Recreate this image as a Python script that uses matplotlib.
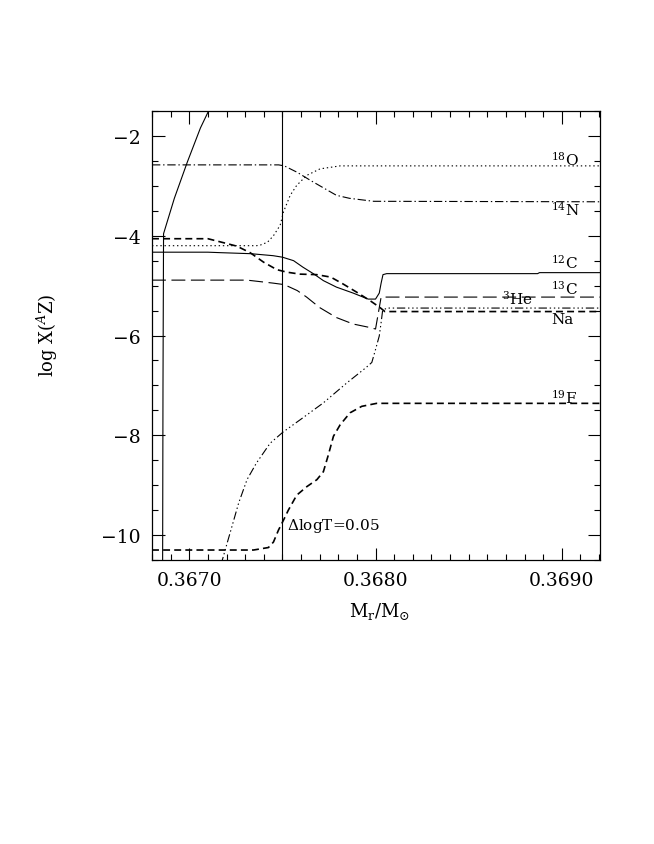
import numpy as np
import matplotlib
matplotlib.use("Agg")
import matplotlib.pyplot as plt
from matplotlib.ticker import MultipleLocator

plt.rcParams['font.family'] = ['DejaVu Serif']
plt.rcParams['mathtext.fontset'] = 'dejavuserif'
plt.rcParams['lines.scale_dashes'] = False

# profiles (Mr/Msun , log X)
# steep solid curve at the left edge (no label)
x_g = [0.366857, 0.366859, 0.366862, 0.36692, 0.36699, 0.36706, 0.36711]
y_g = [-10.6, -7.0, -3.96, -3.25, -2.52, -1.84, -1.45]

# 12C
x_12c = [0.36680, 0.36710, 0.36717, 0.36733, 0.36745, 0.36750, 0.36756, 0.36761,
         0.36767, 0.36772, 0.36779, 0.36788, 0.36796, 0.36800, 0.36802, 0.36803,
         0.36804, 0.36806, 0.36887, 0.36888, 0.36925]
y_12c = [-4.33, -4.33, -4.34, -4.36, -4.40, -4.43, -4.50, -4.63,
         -4.77, -4.90, -5.03, -5.15, -5.27, -5.27, -5.15, -4.95,
         -4.78, -4.76, -4.76, -4.74, -4.74]

# 3He
x_3he = [0.36680, 0.36731, 0.36745, 0.36751, 0.36758, 0.36763, 0.36770, 0.36779,
         0.36788, 0.36797, 0.36800, 0.36803, 0.36925]
y_3he = [-4.89, -4.89, -4.95, -4.98, -5.10, -5.23, -5.44, -5.64,
         -5.77, -5.84, -5.87, -5.23, -5.23]

# 14N
x_14n = [0.36680, 0.36748, 0.36751, 0.36758, 0.36765, 0.36772, 0.36779, 0.36786,
         0.36799, 0.36925]
y_14n = [-2.58, -2.58, -2.60, -2.73, -2.89, -3.04, -3.19, -3.25, -3.31, -3.32]

# 18O
x_18o = [0.36680, 0.36736, 0.36738, 0.36742, 0.367452, 0.367488, 0.367506, 0.367542,
         0.367577, 0.367631, 0.367702, 0.36781, 0.36925]
y_18o = [-4.20, -4.20, -4.19, -4.13, -4.00, -3.79, -3.52, -3.19,
         -2.99, -2.79, -2.66, -2.60, -2.60]

# 13C (dashed, ends at the bottom of the right group)
x_13c = [0.36680, 0.36710, 0.367184, 0.367256, 0.367327, 0.367399, 0.36747, 0.367523,
         0.367595, 0.367684, 0.36776, 0.367827, 0.367898, 0.36797, 0.368024, 0.36805,
         0.36925]
y_13c = [-4.06, -4.06, -4.14, -4.21, -4.34, -4.53, -4.68, -4.73,
         -4.77, -4.78, -4.83, -4.97, -5.13, -5.30, -5.44, -5.52,
         -5.52]

# Na
x_na = [0.36717, 0.367195, 0.367229, 0.367265, 0.36731, 0.36736, 0.367434, 0.367502,
        0.367595, 0.36772, 0.367846, 0.36795, 0.36798, 0.36800, 0.36802, 0.36803,
        0.368038, 0.36806, 0.36925]
y_na = [-10.6, -10.27, -9.83, -9.36, -8.89, -8.56, -8.16, -7.94,
        -7.69, -7.35, -6.95, -6.64, -6.54, -6.28, -6.01, -5.74,
        -5.50, -5.45, -5.45]

# 19F
x_19f = [0.36680, 0.367345, 0.367425, 0.367452, 0.367479, 0.367506, 0.367532, 0.367577,
         0.367631, 0.367685, 0.36772, 0.367747, 0.367774, 0.36781, 0.367863, 0.367926,
         0.368006, 0.36925]
y_19f = [-10.3, -10.3, -10.25, -10.14, -9.90, -9.70, -9.50, -9.20,
         -9.03, -8.89, -8.73, -8.39, -8.02, -7.79, -7.55, -7.42,
         -7.36, -7.36]

x_line = 0.3675  # Delta logT = 0.05

labels = ['$^{18}$O', '$^{14}$N', '$^{12}$C', '$^{13}$C', 'Na', '$^{19}$F']
label_y = [-2.46, -3.46, -4.53, -5.05, -5.67, -7.22]

fig = plt.figure(figsize=(6.54, 8.45), dpi=100)
ax = fig.add_axes([152/654, 1-561/845, 448/654, 449/845])

lw = 0.8
ax.plot(x_g, y_g, color='k', lw=lw)
ax.plot(x_12c, y_12c, color='k', lw=lw)
ax.plot(x_3he, y_3he, color='k', lw=lw, linestyle=(0, (10, 4)))
ax.plot(x_14n, y_14n, color='k', lw=lw, linestyle=(0, (6, 2, 1, 2)))
ax.plot(x_18o, y_18o, color='k', lw=lw, linestyle=(0, (1, 2)))
ax.plot(x_13c, y_13c, color='k', lw=1.2, linestyle=(0, (5, 3)))
ax.plot(x_na, y_na, color='k', lw=lw, linestyle=(0, (6, 2, 1, 2, 1, 2, 1, 2)))
ax.plot(x_19f, y_19f, color='k', lw=1.2, linestyle=(0, (5, 3)))
ax.axvline(x_line, color='k', lw=lw)

ax.set_xlim(0.36680, 0.369205)
ax.set_ylim(-10.5, -1.5)

ax.xaxis.set_major_locator(MultipleLocator(0.001))
ax.xaxis.set_minor_locator(MultipleLocator(0.0001))
ax.yaxis.set_major_locator(MultipleLocator(2))
ax.yaxis.set_minor_locator(MultipleLocator(0.5))
ax.xaxis.set_major_formatter(plt.FuncFormatter(lambda v, p: f'{v:.4f}'))
ax.yaxis.set_major_formatter(plt.FuncFormatter(lambda v, p: f'\u2212{abs(v):.0f}'))
ax.tick_params(which='both', direction='in', top=True, right=True, labelsize=13.5,
               width=0.8, pad=8)
ax.tick_params(which='major', length=9)
ax.tick_params(which='minor', length=4.5)
for s in ax.spines.values():
    s.set_linewidth(0.9)

for lab, ly in zip(labels, label_y):
    ax.text(0.368941, ly, lab, fontsize=11, ha='left', va='center')
ax.text(0.368678, -5.25, '$^{3}$He', fontsize=11, ha='left', va='center')
ax.text(0.367524, -9.80, r'$\Delta$logT=0.05', fontsize=11, ha='left', va='center')

fig.text(47/654, 1-335/845, 'log X($^{A}$Z)', rotation=90, fontsize=13,
         ha='center', va='center')
fig.text(380/654, 1-612/845, r'M$_{\rm r}$/M$_{\odot}$', fontsize=13,
         ha='center', va='center')

fig.savefig('out.png', dpi=100)
